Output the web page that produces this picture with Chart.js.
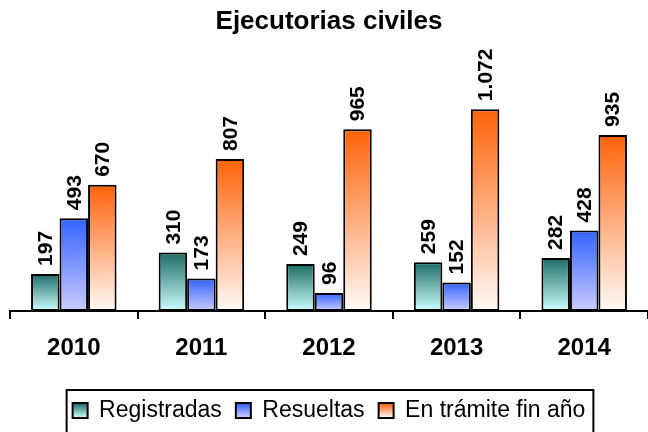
<!DOCTYPE html>
<html>
<head>
<meta charset="utf-8">
<script src="https://cdn.jsdelivr.net/npm/chart.js@4"></script>
<style>
  html, body { margin: 0; padding: 0; background: #fff; }
  #wrap { width: 648px; height: 432px; }
</style>
</head>
<body>
<div id="wrap"><canvas id="chart" width="648" height="432"></canvas></div>
<script>
const YEARS = ['2010', '2011', '2012', '2013', '2014'];
const REGISTRADAS = [197, 310, 249, 259, 282];
const RESUELTAS = [493, 173, 96, 152, 428];
const EN_TRAMITE = [670, 807, 965, 1072, 935];
const SERIES_NAMES = ['Registradas', 'Resueltas', 'En trámite fin año'];

// top / bottom colours of each gradient
const GRADS = [
  ['#1c6b66', '#ccffff'],
  ['#3162ff', '#ccccff'],
  ['#ff6208', '#fffaf7']
];

function fmt(n) {
  return n.toString().replace(/\B(?=(\d{3})+(?!\d))/g, '.');
}

function barFill(i) {
  return function (c) {
    const chart = c.chart;
    if (!chart.chartArea || !c.parsed) return GRADS[i][0];
    const y0 = chart.scales.y.getPixelForValue(0);
    const y1 = chart.scales.y.getPixelForValue(c.parsed.y);
    const g = chart.ctx.createLinearGradient(0, y1, 0, y0);
    g.addColorStop(0, GRADS[i][0]);
    g.addColorStop(1, GRADS[i][1]);
    return g;
  }
}

// rotated value labels above bars
const valueLabels = {
  id: 'valueLabels',
  afterDatasetsDraw(chart) {
    const ctx = chart.ctx;
    ctx.save();
    ctx.font = 'bold 21px Arial, "Liberation Sans", sans-serif';
    ctx.fillStyle = '#000';
    ctx.textAlign = 'left';
    ctx.textBaseline = 'middle';
    chart.data.datasets.forEach((ds, di) => {
      chart.getDatasetMeta(di).data.forEach((bar, j) => {
        ctx.save();
        ctx.translate(bar.x + 1, bar.y - 8);
        ctx.rotate(-Math.PI / 2);
        ctx.fillText(fmt(ds.data[j]), 0, 0);
        ctx.restore();
      })
    })
    ctx.restore();
  }
}

// legend gradients + frame
const legendFrame = {
  id: 'legendFrame',
  beforeDraw(chart) {
    const lg = chart.legend;
    if (!lg || !lg.legendItems) return;
    lg.legendItems.forEach((it, i) => {
      const hb = lg.legendHitBoxes[i];
      const g = chart.ctx.createLinearGradient(0, hb.top, 0, hb.top + hb.height);
      g.addColorStop(0.2, GRADS[i][0]);
      g.addColorStop(0.8, GRADS[i][1]);
      it.fillStyle = g;
    })
  },
  afterDraw(chart) {
    const lg = chart.legend;
    const hb = lg.legendHitBoxes;
    if (!hb || !hb.length) return;
    const ctx = chart.ctx;
    const left = hb[0].left - 6;
    const right = hb[hb.length - 1].left + hb[hb.length - 1].width + 8;
    const top = hb[0].top - 9;
    ctx.save();
    ctx.strokeStyle = '#000';
    ctx.lineWidth = 2;
    ctx.strokeRect(left, top, right - left, chart.height - top + 5);
    ctx.restore();
  }
}

const datasets = [REGISTRADAS, RESUELTAS, EN_TRAMITE].map((d, i) => ({
  label: SERIES_NAMES[i],
  data: d,
  backgroundColor: barFill(i),
  borderColor: '#000',
  borderWidth: 2,
  borderSkipped: false
}));

new Chart(document.getElementById('chart'), {
  type: 'bar',
  data: { labels: YEARS, datasets: datasets },
  options: {
    responsive: false,
    animation: false,
    layout: { padding: { left: 10, right: 0, top: 0, bottom: 0 } },
    datasets: { bar: { categoryPercentage: 0.67, barPercentage: 1 } },
    plugins: {
      title: {
        display: true,
        text: 'Ejecutorias civiles',
        color: '#000',
        font: { family: 'Arial, "Liberation Sans", sans-serif', size: 26, weight: 'bold' },
        padding: { top: 6, bottom: 29 }
      },
      legend: {
        position: 'bottom',
        labels: {
          color: '#000',
          font: { family: 'Arial, "Liberation Sans", sans-serif', size: 23 },
          boxWidth: 15,
          boxHeight: 15,
          padding: 14,
          generateLabels(chart) {
            return chart.data.datasets.map((ds, i) => ({
              text: ds.label,
              fillStyle: GRADS[i][0],
              strokeStyle: '#000',
              lineWidth: 2,
              hidden: false,
              datasetIndex: i
            }))
          }
        }
      },
      tooltip: { enabled: false }
    },
    scales: {
      x: {
        grid: {
          offset: true,
          drawOnChartArea: false,
          drawTicks: true,
          tickLength: 8,
          color: '#000',
          lineWidth: 2
        },
        border: { display: true, color: '#000', width: 2 },
        ticks: {
          color: '#000',
          padding: 15,
          font: { family: 'Arial, "Liberation Sans", sans-serif', size: 24, weight: 'bold' }
        },
        afterFit(axis) { axis.height = 74; }
      },
      y: {
        display: false,
        min: 0,
        max: 1300
      }
    }
  },
  plugins: [valueLabels, legendFrame]
});
</script>
</body>
</html>
